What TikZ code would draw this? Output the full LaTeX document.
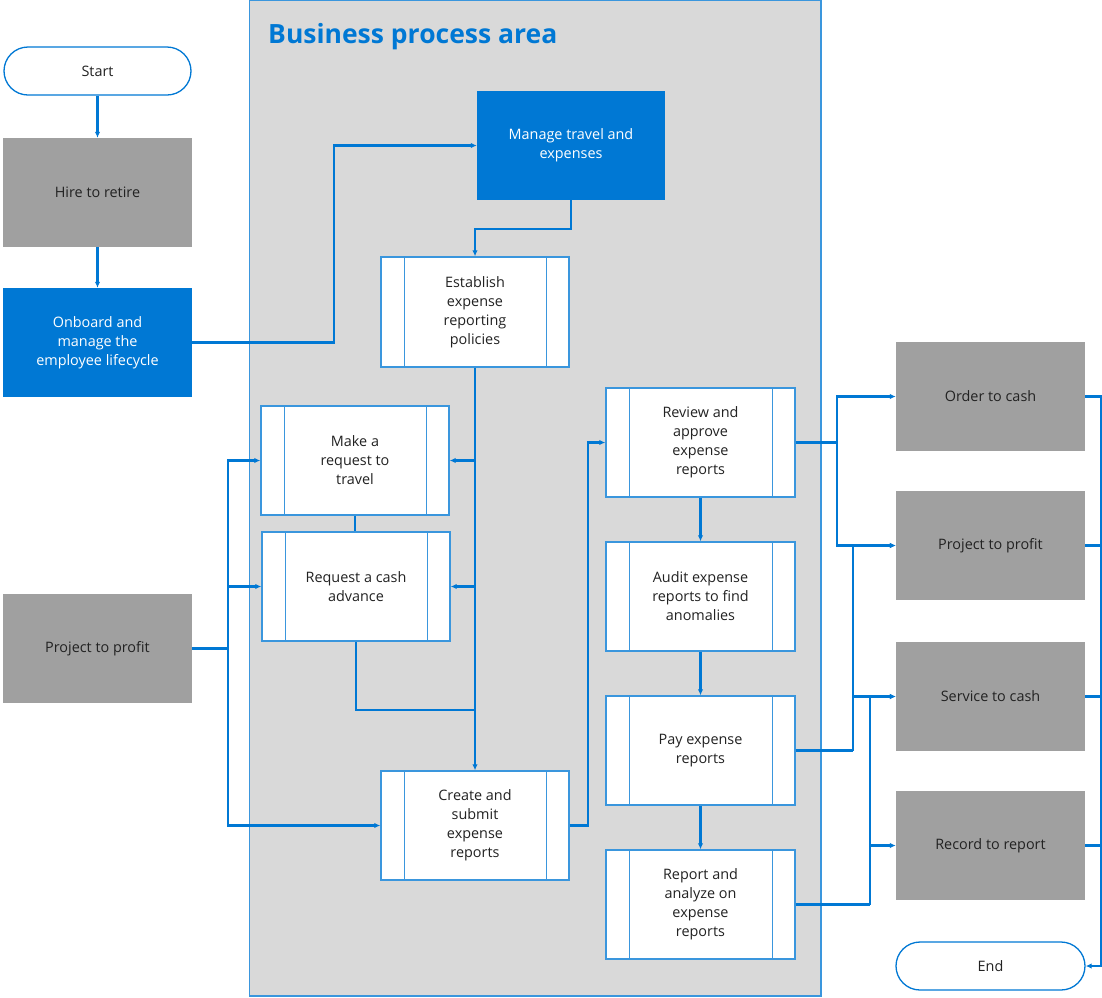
\documentclass[tikz,border=0pt]{standalone}
\usepackage{fontspec}
\setmainfont{Open Sans}
\usetikzlibrary{arrows.meta,calc}
\definecolor{msblue}{HTML}{0078D4}
\definecolor{lblue}{HTML}{3A96DD}
\definecolor{graybox}{HTML}{A0A0A0}
\definecolor{bparea}{HTML}{D9D9D9}
\definecolor{txt}{HTML}{222222}
\begin{document}
\begin{tikzpicture}[x=1pt,y=-1pt,
  every node/.style={font=\fontsize{14.4}{19}\selectfont, text=txt, align=center, inner sep=0pt},
  graynode/.style={fill=graybox, minimum width=189pt, minimum height=109pt},
  bluenode/.style={fill=msblue, text=white, minimum width=189pt, minimum height=109pt},
  procnode/.style={draw=lblue, line width=1.4pt, fill=white, minimum width=188pt, minimum height=109pt},
  termnode/.style={draw=msblue, line width=1.3pt, fill=white, rounded corners=24pt, minimum width=187pt, minimum height=48pt},
  conn/.style={draw=msblue, line width=2.2pt, -{Latex[length=6pt,width=5.5pt]}},
  link/.style={draw=msblue, line width=2.2pt},
  inner/.style={draw=lblue, line width=1.4pt}
]
\useasboundingbox (0,0) rectangle (1102,997);
\fill[white] (0,0) rectangle (1102,997);
% business process area
\draw[lblue, fill=bparea, line width=1.2pt] (249.5,0.5) rectangle (821,996);
\node[anchor=base west, text=msblue, font=\fontsize{26.5}{30}\selectfont\bfseries] (title) at (268,43) {Business process area};

% left column
\node[termnode] (start) at (97.5,71) {Start};
\node[graynode] (hire) at (97.5,192.5) {Hire to retire};
\node[bluenode] (onb) at (97.5,342.5) {Onboard and\\manage the\\employee lifecycle};
\node[graynode] (pl) at (97.5,648.5) {Project to profit};

% business process area nodes
\node[bluenode, minimum width=188pt] (mte) at (571,145.5) {Manage travel and\\expenses};
\node[procnode, minimum height=110pt] (est) at (475,312) {Establish\\expense\\reporting\\policies};
\node[procnode] (mrt) at (355,460.5) {Make a\\request to\\travel};
\node[procnode] (rca) at (356,586.5) {Request a cash\\advance};
\node[procnode] (cre) at (475,825.5) {Create and\\submit\\expense\\reports};
\node[procnode, minimum width=189pt] (rev) at (700.5,442.5) {Review and\\approve\\expense\\reports};
\node[procnode, minimum width=189pt] (aud) at (700.5,596.5) {Audit expense\\reports to find\\anomalies};
\node[procnode, minimum width=189pt] (pay) at (700.5,750.5) {Pay expense\\reports};
\node[procnode, minimum width=189pt] (rep) at (700.5,904.5) {Report and\\analyze on\\expense\\reports};

\foreach \n in {est,mrt,rca,cre,rev,aud,pay,rep}{
  \draw[inner] ($(\n.north west)+(24,0)$) -- ($(\n.south west)+(24,0)$);
  \draw[inner] ($(\n.north east)+(-23,0)$) -- ($(\n.south east)+(-23,0)$);
}

% right column
\node[graynode] (otc) at (990.5,396.5) {Order to cash};
\node[graynode] (ptp) at (990.5,545.5) {Project to profit};
\node[graynode] (stc) at (990.5,696.5) {Service to cash};
\node[graynode] (rtr) at (990.5,845.5) {Record to report};
\node[termnode, minimum width=189pt] (endn) at (990.5,966) {End};

% bend coordinates
\coordinate (xa) at (334,0);
\coordinate (xl) at (228,0);
\coordinate (xc) at (588,0);
\coordinate (xr) at (837,0);
\coordinate (xp) at (853,0);
\coordinate (xq) at (870,0);
\coordinate (xe) at (1101,0);
\coordinate (j1) at (475,710);

% connectors
\draw[conn] (start.south) -- (hire.north);
\draw[conn] (hire.south) -- (onb.north);
\draw[conn] (onb.east) -- (onb.east -| xa) |- (mte.west);
\draw[conn] (mte.south) -- ++(0,29) -| (est.north);
\draw[conn] (est.south) -- (cre.north);
\draw[conn] (est.south |- mrt.east) -- (mrt.east);
\draw[conn] (est.south |- rca.east) -- (rca.east);
\draw[link] (mrt.south) -- (mrt.south |- rca.north);
\draw[link] (rca.south) |- (j1);
\draw[link] (pl.east) -- (pl.east -| xl);
\draw[conn] (pl.east -| xl) |- (mrt.west);
\draw[conn] (pl.east -| xl) |- (rca.west);
\draw[conn] (pl.east -| xl) |- (cre.west);
\draw[conn] (cre.east) -- (cre.east -| xc) |- (rev.west);
\draw[conn] (rev.south) -- (aud.north);
\draw[conn] (aud.south) -- (pay.north);
\draw[conn] (pay.south) -- (rep.north);
\draw[link] (rev.east) -- (rev.east -| xr);
\draw[conn] (rev.east -| xr) |- (otc.west);
\draw[conn] (rev.east -| xr) |- (ptp.west);
\draw[link] (pay.east) -- (pay.east -| xp);
\draw[conn] (pay.east -| xp) |- (ptp.west);
\draw[conn] (pay.east -| xp) |- (stc.west);
\draw[link] (rep.east) -- (rep.east -| xq);
\draw[conn] (rep.east -| xq) |- (stc.west);
\draw[conn] (rep.east -| xq) |- (rtr.west);
\draw[conn] (otc.east) -| (xe |- endn.east) -- (endn.east);
\draw[link] (ptp.east) -- (ptp.east -| xe);
\draw[link] (stc.east) -- (stc.east -| xe);
\draw[link] (rtr.east) -- (rtr.east -| xe);
\end{tikzpicture}
\end{document}
